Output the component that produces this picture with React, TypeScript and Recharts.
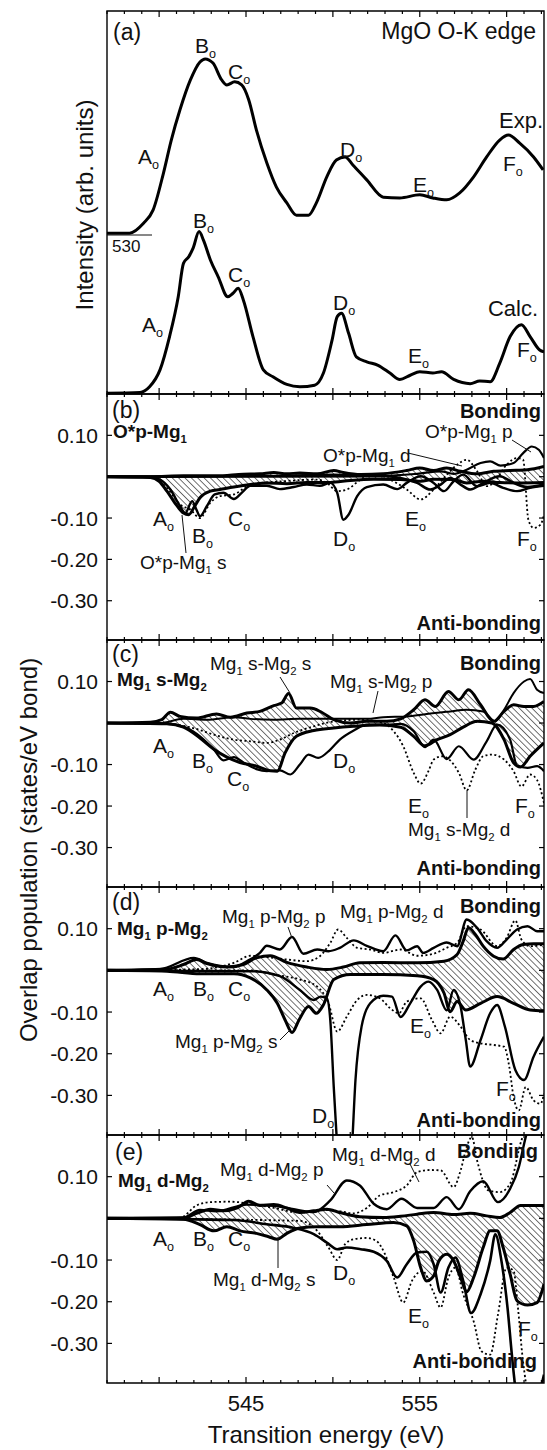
import React from 'react';
import { ComposedChart, Line, Area, XAxis, YAxis, ReferenceArea } from 'recharts';

type Pt = [number, number];
const FONT = '"Liberation Sans", Arial, Helvetica, sans-serif';

const X_DOMAIN: [number, number] = [537, 562.15];
const X_TICKS = [537, 538, 539, 540, 541, 542, 543, 544, 545, 546, 547, 548, 549, 550, 551, 552, 553, 554, 555, 556, 557, 558, 559, 560, 561, 562];
const X_LABELS = [545, 555];
const Y_TICKS = [0.1, 0, -0.1, -0.2, -0.3];
const OP_DOMAIN: [number, number] = [-0.395, 0.2];
const INT_DOMAIN: [number, number] = [0, 100];

// (a) spectra
const EXP: Pt[] = [[537.0,42.0],[538.3,42.0],[539.1,44.6],[539.65,48.0],[540.25,57.7],[540.7,66.3],[541.2,74.2],[541.8,82.0],[542.35,86.7],[542.65,87.5],[543.1,86.4],[543.6,82.0],[543.9,80.7],[544.35,81.5],[544.75,80.7],[545.15,76.9],[545.6,68.9],[546.2,60.3],[546.75,54.0],[547.35,49.9],[547.9,46.7],[548.6,46.7],[549.05,49.9],[549.65,56.7],[550.2,61.1],[550.7,61.9],[551.15,59.8],[551.95,55.9],[552.9,51.4],[553.85,51.2],[555.0,52.0],[555.75,51.2],[556.55,50.7],[557.3,52.5],[558.1,56.7],[558.85,61.9],[559.6,66.3],[560.1,67.6],[560.75,65.5],[561.55,61.9],[562.1,58.5]];
const CALC: Pt[] = [[537,0.2],[538.9,0.4],[539.45,1.9],[540.05,6.3],[540.6,15.0],[541.1,25.4],[541.4,34.1],[541.7,35.8],[541.95,38.0],[542.3,42.4],[542.55,40.2],[542.95,35.0],[543.4,30.6],[543.95,25.4],[544.25,26.3],[544.55,27.6],[544.85,24.5],[545.4,15.0],[546.0,6.3],[546.55,4.5],[547.35,2.5],[548.1,1.9],[548.95,2.3],[549.45,5.4],[549.95,14.0],[550.25,20.2],[550.5,21.1],[550.9,15.9],[551.35,9.7],[551.95,8.4],[552.6,7.5],[553.3,5.4],[553.85,3.8],[554.45,4.9],[555.0,5.8],[555.75,5.5],[556.25,5.8],[556.95,3.8],[557.9,2.7],[558.45,3.4],[559.05,3.2],[559.6,8.0],[560.2,15.0],[560.85,18.1],[561.35,15.0],[561.9,11.5],[562.15,11.0]];

// (b) O*p-Mg1
const B_HIGH: Pt[] = [[537,0],[539.5,0],[541.4,0.002],[543.3,0.002],[544.85,0.006],[545.8,0.007],[546.6,0.01],[547.35,0.007],[548.1,0.009],[549.1,0.007],[550.05,0.015],[550.6,0.01],[551.6,0.005],[552.9,0.007],[554.25,0.015],[555,0.021],[555.8,0.015],[556.55,0.021],[557.35,0.013],[558.3,0.007],[559.25,0.013],[560.2,0.015],[561.2,0.017],[562.15,0.025]];
const B_LOW: Pt[] = [[537,0],[539.5,-0.002],[540,-0.011],[540.45,-0.035],[540.9,-0.063],[541.4,-0.088],[541.7,-0.092],[542.05,-0.071],[542.35,-0.051],[542.95,-0.035],[543.5,-0.031],[544.3,-0.025],[545.25,-0.019],[546.2,-0.015],[547.35,-0.017],[548.5,-0.014],[549.85,-0.014],[551,-0.009],[552.35,-0.006],[553.9,-0.007],[555.05,-0.011],[555.8,-0.006],[556.95,-0.007],[557.7,-0.015],[558.65,-0.011],[559.6,-0.014],[560.6,-0.015],[562.15,-0.014]];
const B_S: Pt[] = [[537,0],[539.5,-0.001],[540.05,-0.007],[540.65,-0.031],[541.2,-0.071],[541.5,-0.088],[541.9,-0.059],[542.15,-0.08],[542.35,-0.096],[542.75,-0.071],[543.2,-0.043],[543.7,-0.039],[544.3,-0.054],[544.75,-0.039],[545.25,-0.022],[546.2,-0.022],[546.95,-0.03],[547.75,-0.025],[548.5,-0.019],[549.25,-0.022],[549.85,-0.015],[550.25,-0.039],[550.6,-0.104],[550.9,-0.092],[551.4,-0.047],[551.95,-0.025],[552.9,-0.019],[553.7,-0.03],[554.25,-0.015],[555.05,0.001],[555.8,-0.015],[556.4,-0.035],[556.95,-0.011],[557.5,0.005],[558.3,-0.023],[559.05,-0.015],[559.8,-0.027],[560.6,-0.035],[561.35,-0.027],[562.15,-0.022]];
const B_P: Pt[] = [[537,0],[546.2,0.002],[550.05,0.005],[552.9,0.002],[554.85,0.007],[556.2,0.013],[556.95,0.007],[557.7,0.017],[558.5,0.033],[559.05,0.037],[559.65,0.027],[560.4,0.033],[560.95,0.057],[561.45,0.073],[561.85,0.065],[562.15,0.045]];
const B_D: Pt[] = [[537,0],[539.5,-0.001],[540.45,-0.027],[541.2,-0.067],[541.8,-0.08],[542.35,-0.1],[542.95,-0.063],[543.5,-0.047],[544.3,-0.043],[545.25,-0.019],[547.15,-0.011],[549.1,-0.007],[549.65,-0.015],[550.25,-0.035],[550.8,-0.031],[551.6,-0.007],[552.35,0.007],[553.3,-0.007],[554.25,-0.031],[555.05,-0.055],[555.8,-0.031],[556.55,0.005],[557.15,0.029],[557.7,0.041],[558.3,0.013],[558.85,-0.023],[559.25,-0.015],[560,0.029],[560.6,0.045],[560.95,0.041],[561.25,-0.104],[561.55,-0.124],[561.95,-0.116],[562.15,-0.092]];
const B_X: Pt[] = [[537,0],[553.0,0.001],[553.9,-0.003],[554.85,-0.015],[555.6,-0.031],[556.2,-0.019],[556.75,-0.003],[557.35,-0.019],[557.9,-0.031],[558.65,-0.015],[559.6,0.001],[560.4,-0.015],[561.2,-0.025],[562.15,-0.019]];

// (c) Mg1 s-Mg2
const C_HIGH: Pt[] = [[537,0],[539.5,0.002],[540.15,0.008],[540.65,0.026],[541.2,0.016],[542.15,0.012],[543.3,0.022],[544.1,0.014],[545.05,0.024],[545.8,0.028],[546.6,0.042],[547.05,0.048],[547.45,0.071],[547.9,0.036],[548.7,0.036],[549.35,0.026],[550.05,0.008],[551,0],[551.95,0.004],[553.1,0.004],[553.9,0.01],[554.65,0.032],[555.3,0.056],[555.9,0.04],[556.65,0.076],[557.25,0.056],[557.8,0.08],[558.5,0.044],[559.25,0.004],[559.85,0.028],[560.4,0.044],[561,0.04],[561.55,0.04],[562.15,0.052]];
const C_LOW: Pt[] = [[537,0],[540.45,-0.002],[541.4,-0.01],[542.35,-0.036],[543.15,-0.063],[543.9,-0.082],[544.65,-0.095],[545.6,-0.104],[546.4,-0.115],[546.8,-0.116],[547.25,-0.072],[547.9,-0.032],[548.9,-0.018],[550.05,-0.012],[551.2,-0.008],[552.7,-0.005],[553.9,-0.01],[554.65,-0.032],[555.3,-0.055],[556,-0.04],[556.75,-0.028],[557.5,-0.01],[558.3,0.004],[559.15,0],[559.85,-0.04],[560.4,-0.096],[560.8,-0.106],[561.35,-0.08],[562.15,-0.048]];
const C_S: Pt[] = [[537,0],[540.45,-0.002],[541.6,-0.012],[542.35,-0.032],[543.15,-0.064],[543.7,-0.09],[544.3,-0.082],[544.85,-0.095],[545.6,-0.111],[546.2,-0.116],[546.95,-0.114],[547.55,-0.124],[548.1,-0.1],[548.6,-0.076],[549.15,-0.084],[549.85,-0.064],[550.4,-0.04],[551.2,-0.018],[551.95,-0.004],[553.1,-0.004],[553.9,-0.002],[554.65,-0.02],[555.3,-0.058],[555.8,-0.04],[556.55,-0.087],[557.25,-0.056],[558.1,-0.088],[558.85,-0.044],[559.45,-0.004],[560.2,-0.04],[560.6,-0.103],[561.2,-0.108],[561.75,-0.104],[562.15,-0.116]];
const C_P: Pt[] = [[537,0],[540.05,0],[541.4,0.01],[542.75,0.008],[544.3,0.014],[545.25,0.01],[546.6,0.008],[548.1,0.01],[550.05,0.01],[551.95,0.01],[552.9,0.014],[554.25,0.016],[555.4,0.022],[556.75,0.028],[557.7,0.032],[558.65,0.028],[559.35,0.004],[559.85,0.032],[560.4,0.072],[561,0.1],[561.35,0.106],[561.75,0.08],[562.15,0.072]];
const C_D: Pt[] = [[537,0],[540.45,-0.002],[541.95,-0.012],[543.15,-0.028],[544.3,-0.04],[545.25,-0.044],[546.2,-0.048],[546.95,-0.04],[547.75,-0.024],[548.9,-0.008],[550.05,0.004],[551.55,0.008],[552.9,0],[553.5,-0.02],[554.05,-0.056],[554.65,-0.12],[555.05,-0.146],[555.5,-0.116],[555.8,-0.088],[556.3,-0.08],[556.75,-0.09],[557.25,-0.12],[557.7,-0.162],[558.2,-0.112],[558.65,-0.08],[559.15,-0.076],[559.85,-0.088],[560.4,-0.116],[560.85,-0.153],[561.35,-0.124],[561.75,-0.137],[562.15,-0.193]];

// (d) Mg1 p-Mg2
const D_HIGH: Pt[] = [[537,0],[540.45,0.003],[541.4,0.014],[542.15,0.026],[542.75,0.016],[543.9,0.008],[544.85,0.014],[545.6,0.03],[546.4,0.035],[547.35,0.019],[548.5,0.008],[549.65,0.002],[550.6,0.008],[551.55,0.018],[552.9,0.019],[554.85,0.018],[556.4,0.022],[557.15,0.038],[557.5,0.07],[557.8,0.102],[558.2,0.086],[558.65,0.058],[559.25,0.034],[559.8,0.027],[560.4,0.05],[560.95,0.062],[561.55,0.064],[562.15,0.064]];
const D_LOW: Pt[] = [[537,0],[540.45,-0.002],[542.35,-0.008],[544.3,-0.008],[545.25,-0.018],[546.2,-0.047],[546.8,-0.079],[547.25,-0.119],[547.65,-0.149],[548.05,-0.119],[548.6,-0.087],[549.05,-0.103],[549.45,-0.083],[550.05,-0.022],[551,-0.01],[552.9,-0.01],[554.85,-0.013],[555.8,-0.022],[556.4,-0.055],[556.75,-0.099],[557.15,-0.075],[557.65,-0.095],[558.5,-0.079],[559.45,-0.063],[560.4,-0.079],[561.35,-0.095],[562.15,-0.097]];
const D_P: Pt[] = [[537,0],[540.05,0.003],[542,0.03],[542.75,0.018],[544.3,0.008],[545.05,0.022],[545.8,0.042],[546.2,0.059],[546.95,0.05],[547.65,0.08],[548.3,0.04],[549.1,0.05],[549.75,0.046],[550.4,0.054],[551.2,0.072],[551.95,0.059],[552.9,0.046],[553.6,0.084],[554.25,0.048],[554.85,0.058],[555.2,0.042],[555.8,0.054],[556.55,0.067],[557.15,0.058],[557.7,0.122],[558.3,0.102],[558.85,0.07],[559.45,0.054],[560,0.074],[560.6,0.098],[561.2,0.106],[561.75,0.094],[562.15,0.094]];
const D_D: Pt[] = [[537,0],[542.35,0.003],[544.3,0.018],[545.25,0.035],[546.2,0.032],[547.35,0.026],[548.5,0.022],[549.25,0.034],[549.85,0.066],[550.3,0.098],[550.8,0.078],[551.4,0.054],[552.15,0.05],[552.9,0.042],[553.9,0.05],[554.85,0.035],[555.8,0.04],[556.55,0.054],[557.15,0.066],[557.7,0.106],[558.5,0.098],[559.45,0.058],[560,0.078],[560.5,0.12],[560.85,0.074],[561.35,0.058],[562.15,0.062]];
const D_D2: Pt[] = [[537,0],[545.25,0],[546.6,-0.01],[548.1,-0.022],[549.1,-0.039],[549.75,-0.079],[550.25,-0.147],[550.8,-0.111],[551.4,-0.071],[551.95,-0.059],[552.7,-0.067],[553.3,-0.091],[553.8,-0.103],[554.25,-0.075],[555.05,-0.067],[555.7,-0.119],[556.2,-0.151],[556.75,-0.111],[557.35,-0.135],[557.9,-0.167],[558.5,-0.175],[559.25,-0.179],[559.85,-0.183],[560.15,-0.231],[560.4,-0.304],[560.7,-0.336],[561.1,-0.28],[561.55,-0.312],[561.95,-0.32],[562.15,-0.296]];
const D_S: Pt[] = [[537,0],[545.25,-0.002],[546.95,-0.014],[548.1,-0.047],[548.9,-0.071],[549.3,-0.063],[549.65,-0.067],[549.85,-0.119],[550.05,-0.28],[550.25,-0.424],[550.5,-0.585],[550.8,-0.585],[551.1,-0.424],[551.3,-0.263],[551.65,-0.135],[552.15,-0.079],[552.9,-0.061],[553.4,-0.063],[553.9,-0.112],[554.45,-0.079],[555.05,-0.039],[555.5,-0.027],[556,-0.047],[556.55,-0.096],[556.95,-0.047],[557.35,-0.087],[557.65,-0.167],[557.9,-0.231],[558.5,-0.167],[559.05,-0.103],[559.45,-0.083],[559.9,-0.135],[560.5,-0.239],[561,-0.263],[561.55,-0.207],[562.15,-0.159]];

// (e) Mg1 d-Mg2
const E_HIGH: Pt[] = [[537,0],[541.4,0.001],[542.15,0.012],[542.95,0.022],[543.7,0.018],[544.5,0.025],[545.15,0.041],[545.8,0.031],[546.6,0.033],[547.35,0.025],[548.1,0.014],[548.9,0.018],[549.65,0.022],[550.4,0.014],[551.55,0.004],[552.9,0.002],[553.9,0.005],[554.85,0.01],[555.8,0.014],[556.95,0.009],[557.9,0.012],[558.85,0.006],[559.6,0.002],[560.2,0.014],[560.8,0.031],[561.55,0.031],[562.15,0.031]];
const E_LOW: Pt[] = [[537,0],[541.4,-0.002],[542.35,-0.015],[543.15,-0.03],[543.9,-0.02],[544.65,-0.03],[545.6,-0.036],[546.3,-0.044],[546.8,-0.05],[547.35,-0.036],[548.1,-0.023],[549.1,-0.02],[550.4,-0.02],[551.95,-0.015],[553.5,-0.01],[554.25,-0.018],[554.65,-0.054],[555.05,-0.118],[555.4,-0.15],[555.8,-0.138],[556.1,-0.102],[556.55,-0.086],[556.95,-0.102],[557.35,-0.142],[557.7,-0.176],[558.1,-0.142],[558.65,-0.07],[559.05,-0.03],[559.45,-0.03],[559.8,-0.07],[560.2,-0.134],[560.6,-0.198],[561.2,-0.208],[561.75,-0.202],[562.15,-0.158]];
const E_P: Pt[] = [[537,0],[541.4,0.002],[542.35,0.02],[543.3,0.017],[545.05,0.033],[546.6,0.03],[547.75,0.022],[548.9,0.015],[549.85,0.043],[550.8,0.091],[551.55,0.079],[552.35,0.035],[553.1,0.022],[553.95,0.047],[554.85,0.025],[555.8,0.025],[556.55,0.051],[557.25,0.022],[557.9,0.065],[558.65,0.089],[559.5,0.039],[560.2,0.071],[560.7,0.123],[561.05,0.187],[561.35,0.235]];
const E_D: Pt[] = [[537,0],[541.2,0.001],[542.15,0.031],[542.95,0.039],[544.1,0.04],[545.25,0.035],[546.6,0.025],[548.1,0.014],[549.65,0.02],[550.4,0.017],[551.2,0.012],[551.95,0.025],[552.7,0.055],[553.5,0.063],[554.25,0.079],[554.85,0.111],[555.6,0.116],[556.2,0.115],[556.95,0.075],[557.35,0.115],[557.7,0.171],[558,0.195],[558.3,0.139],[558.95,0.067],[559.6,0.063],[560.2,0.083],[560.85,0.187],[561.15,0.219]];
const E_D2: Pt[] = [[537,0],[548.1,-0.006],[549.1,-0.03],[549.75,-0.07],[550.25,-0.1],[550.7,-0.062],[551.2,-0.05],[551.95,-0.047],[552.5,-0.054],[553,-0.086],[553.5,-0.142],[554.05,-0.202],[554.55,-0.15],[555.15,-0.126],[555.8,-0.178],[556.2,-0.214],[556.65,-0.142],[557.05,-0.118],[557.5,-0.182],[558.1,-0.247],[558.55,-0.319],[559.05,-0.327],[559.5,-0.231],[560,-0.118],[560.4,-0.126],[560.65,-0.214],[560.9,-0.327],[561.15,-0.407]];
const E_N: Pt[] = [[537,0],[544.3,-0.004],[546.2,-0.014],[547.75,-0.023],[548.9,-0.038],[549.65,-0.058],[550.25,-0.074],[550.8,-0.07],[551.6,-0.074],[552.35,-0.08],[553.1,-0.102],[553.7,-0.142],[554.25,-0.11],[554.85,-0.082],[555.4,-0.08],[555.8,-0.11],[556.2,-0.178],[556.65,-0.118],[557.05,-0.094],[557.5,-0.15],[557.95,-0.227],[558.5,-0.182],[559.05,-0.102],[559.35,-0.038],[559.7,-0.102],[560.05,-0.214],[560.3,-0.327],[560.5,-0.407],[560.8,-0.488],[561.2,-0.57],[561.75,-0.45],[562.15,-0.375]];

type Series = { data: Pt[]; w: number; dash?: string };
const pts = (a: Pt[]) => a.map(([x, y]) => ({ x, y }));

const makeXTick = (H: number, labels: boolean) => (props: any) => {
  const { x, y, payload } = props;
  const v = payload.value as number;
  const len = v % 5 === 0 ? 6 : 3;
  return (
    <g>
      <line x1={x} y1={y} x2={x} y2={y - len} stroke="#000" strokeWidth={1.2} />
      <line x1={x} y1={y - H} x2={x} y2={y - H + len} stroke="#000" strokeWidth={1.2} />
      {labels && X_LABELS.includes(v) ? (
        <text x={x} y={y + 28} textAnchor="middle" fontSize={22} fontFamily={FONT} fill="#111">{v}</text>
      ) : null}
    </g>
  );
};

const makeYTick = (W: number) => (props: any) => {
  const { x, y, payload } = props;
  const v = payload.value as number;
  return (
    <g>
      <line x1={x} y1={y} x2={x + 5} y2={y} stroke="#000" strokeWidth={1.2} />
      <line x1={x + W} y1={y} x2={x + W - 5} y2={y} stroke="#000" strokeWidth={1.2} />
      {v !== 0 ? (
        <text x={x - 9} y={y + 7.5} textAnchor="end" fontSize={21} fontFamily={FONT} fill="#111">{v.toFixed(2)}</text>
      ) : null}
    </g>
  );
};

type PanelProps = {
  id: string; top: number; H: number; domain: [number, number]; yTicks: boolean; xLabels: boolean;
  areas: Pt[][]; lines: Series[];
};

function Panel({ id, top, H, domain, yTicks, xLabels, areas, lines }: PanelProps) {
  const W = 437;
  const xh = xLabels ? 45 : 30;
  return (
    <div style={{ position: 'absolute', left: 0, top: top - 5 }}>
      <ComposedChart width={547} height={H + 5 + xh} margin={{ top: 5, right: 3, bottom: 0, left: 0 }}>
        <defs>
          <pattern id={`hatch-${id}`} width={4.5} height={4.5} patternUnits="userSpaceOnUse" patternTransform="rotate(-45)">
            <line x1={0} y1={0} x2={0} y2={4.5} stroke="#000" strokeWidth={1.1} />
          </pattern>
        </defs>
        <XAxis dataKey="x" type="number" domain={X_DOMAIN} allowDataOverflow ticks={X_TICKS} interval={0}
          height={xh} tickSize={0} tickMargin={0} axisLine={false} tickLine={false} tick={makeXTick(H, xLabels)} />
        <YAxis type="number" domain={domain} allowDataOverflow ticks={yTicks ? Y_TICKS : []} interval={0}
          width={107} tickSize={0} tickMargin={0} axisLine={false} tickLine={false}
          tick={yTicks ? makeYTick(W) : false} />
        <ReferenceArea x1={X_DOMAIN[0]} x2={X_DOMAIN[1]} y1={domain[0]} y2={domain[1]} fill="none" fillOpacity={0}
          stroke="#000" strokeWidth={1.4} ifOverflow="visible" />
        {areas.map((a, i) => (
          <Area key={`a${i}`} data={pts(a)} dataKey="y" type="monotone" baseValue={0} fill={`url(#hatch-${id})`}
            fillOpacity={1} stroke="#000" strokeWidth={3} dot={false} activeDot={false} isAnimationActive={false} />
        ))}
        {lines.map((s, i) => (
          <Line key={`l${i}`} data={pts(s.data)} dataKey="y" type="monotone" stroke="#000" strokeWidth={s.w}
            strokeDasharray={s.dash} dot={false} activeDot={false} isAnimationActive={false} />
        ))}
      </ComposedChart>
    </div>
  );
}

type Part = [string, boolean?];
function Lab({ x, y, parts, size = 19, bold = false, anchor = 'start' }: { x: number; y: number; parts: Part[]; size?: number; bold?: boolean; anchor?: string }) {
  let sub = false;
  const off = size * 0.26;
  return (
    <text x={x} y={y} fontSize={size} fontWeight={bold ? 'bold' : 'normal'} textAnchor={anchor as any} fill="#111" fontFamily={FONT}>
      {parts.map(([s, isSub], i) => {
        const dy = isSub && !sub ? off : !isSub && sub ? -off : 0;
        sub = !!isSub;
        return <tspan key={i} dy={dy} fontSize={isSub ? size * 0.6 : size}>{s}</tspan>;
      })}
    </text>
  );
}
const Pk = ({ x, y, l }: { x: number; y: number; l: string }) => <Lab x={x} y={y} size={21} parts={[[l], ['o', true]]} />;
const PL = ({ x1, y1, x2, y2 }: { x1: number; y1: number; x2: number; y2: number }) => (
  <line x1={x1} y1={y1} x2={x2} y2={y2} stroke="#111" strokeWidth={1} />
);

export default function App() {
  const dash = '2 2.5';
  return (
    <div style={{ position: 'absolute', left: 0, top: 0, width: 547, height: 1450, background: '#fff', fontFamily: FONT }}>
      <Panel id="a" top={11} H={383} domain={INT_DOMAIN} yTicks={false} xLabels={false} areas={[]}
        lines={[{ data: EXP, w: 3 }, { data: CALC, w: 3 }]} />
      <Panel id="b" top={394} H={246} domain={OP_DOMAIN} yTicks xLabels={false} areas={[B_HIGH, B_LOW]}
        lines={[{ data: B_X, w: 2.6 }, { data: B_S, w: 2.4 }, { data: B_P, w: 2.2 }, { data: B_D, w: 1.8, dash }]} />
      <Panel id="c" top={640} H={247} domain={OP_DOMAIN} yTicks xLabels={false} areas={[C_HIGH, C_LOW]}
        lines={[{ data: C_S, w: 2.2 }, { data: C_P, w: 2.0 }, { data: C_D, w: 1.8, dash }]} />
      <Panel id="d" top={887} H={248} domain={OP_DOMAIN} yTicks xLabels={false} areas={[D_HIGH, D_LOW]}
        lines={[{ data: D_P, w: 2.4 }, { data: D_S, w: 2.4 }, { data: D_D, w: 1.8, dash }, { data: D_D2, w: 1.8, dash }]} />
      <Panel id="e" top={1135} H={248} domain={OP_DOMAIN} yTicks xLabels areas={[E_HIGH, E_LOW]}
        lines={[{ data: E_P, w: 2.4 }, { data: E_N, w: 2.6 }, { data: E_D, w: 1.8, dash }, { data: E_D2, w: 1.8, dash }]} />

      <svg width={547} height={1450} style={{ position: 'absolute', left: 0, top: 0, pointerEvents: 'none' }}>
        <text transform="translate(93,205) rotate(-90)" textAnchor="middle" fontSize={24} fontFamily={FONT} fill="#111">Intensity (arb. units)</text>
        <text transform="translate(37,850) rotate(-90)" textAnchor="middle" fontSize={24} fontFamily={FONT} fill="#111">Overlap population (states/eV bond)</text>
        <text x={326} y={1443} textAnchor="middle" fontSize={24} fontFamily={FONT} fill="#111">Transition energy (eV)</text>

        {/* (a) */}
        <Lab x={113} y={40} size={23} parts={[['(a)']]} />
        <Lab x={536} y={39} size={23} anchor="end" parts={[['MgO O-K edge']]} />
        <Pk x={195} y={53} l="B" /><Pk x={228} y={79} l="C" /><Pk x={138} y={164} l="A" />
        <Pk x={340} y={157} l="D" /><Pk x={413} y={192} l="E" /><Pk x={503} y={171} l="F" />
        <Lab x={543} y={128} size={22} anchor="end" parts={[['Exp.']]} />
        <Pk x={193} y={228} l="B" /><Pk x={228} y={282} l="C" /><Pk x={142} y={332} l="A" />
        <Pk x={333} y={310} l="D" /><Pk x={408} y={363} l="E" /><Pk x={517} y={357} l="F" />
        <Lab x={538} y={316} size={22} anchor="end" parts={[['Calc.']]} />
        <line x1={107} y1={235} x2={152} y2={235} stroke="#111" strokeWidth={1} />
        <text x={112} y={252} fontSize={17} fontFamily={FONT} fill="#111">530</text>

        {/* (b) */}
        <Lab x={112} y={418} size={23} parts={[['(b)']]} />
        <Lab x={113} y={438} bold parts={[['O*p-Mg'], ['1', true]]} />
        <Lab x={541} y={418} size={20} bold anchor="end" parts={[['Bonding']]} />
        <Lab x={541} y={630} size={20} bold anchor="end" parts={[['Anti-bonding']]} />
        <Lab x={425} y={438} parts={[['O*p-Mg'], ['1', true], [' p']]} />
        <PL x1={512} y1={440} x2={531} y2={452} />
        <Lab x={323} y={462} parts={[['O*p-Mg'], ['1', true], [' d']]} />
        <PL x1={408} y1={453} x2={462} y2={466} />
        <Pk x={153} y={526} l="A" /><Pk x={192} y={543} l="B" /><Pk x={228} y={526} l="C" />
        <Pk x={333} y={546} l="D" /><Pk x={405} y={526} l="E" /><Pk x={517} y={546} l="F" />
        <Lab x={140} y={569} parts={[['O*p-Mg'], ['1', true], [' s']]} />
        <PL x1={182} y1={515} x2={186} y2={553} />

        {/* (c) */}
        <Lab x={112} y={662} size={23} parts={[['(c)']]} />
        <Lab x={117} y={686} bold parts={[['Mg'], ['1', true], [' s-Mg'], ['2', true]]} />
        <Lab x={541} y={670} size={20} bold anchor="end" parts={[['Bonding']]} />
        <Lab x={541} y={875} size={20} bold anchor="end" parts={[['Anti-bonding']]} />
        <Lab x={210} y={670} parts={[['Mg'], ['1', true], [' s-Mg'], ['2', true], [' s']]} />
        <PL x1={280} y1={677} x2={290} y2={693} />
        <Lab x={330} y={688} parts={[['Mg'], ['1', true], [' s-Mg'], ['2', true], [' p']]} />
        <PL x1={378} y1={691} x2={373} y2={713} />
        <Pk x={153} y={753} l="A" /><Pk x={192} y={768} l="B" /><Pk x={227} y={786} l="C" />
        <Pk x={333} y={768} l="D" /><Pk x={408} y={813} l="E" /><Pk x={515} y={813} l="F" />
        <Lab x={408} y={836} parts={[['Mg'], ['1', true], [' s-Mg'], ['2', true], [' d']]} />
        <PL x1={467} y1={790} x2={467} y2={818} />

        {/* (d) */}
        <Lab x={112} y={910} size={23} parts={[['(d)']]} />
        <Lab x={117} y={935} bold parts={[['Mg'], ['1', true], [' p-Mg'], ['2', true]]} />
        <Lab x={541} y={913} size={20} bold anchor="end" parts={[['Bonding']]} />
        <Lab x={541} y={1127} size={20} bold anchor="end" parts={[['Anti-bonding']]} />
        <Lab x={222} y={923} parts={[['Mg'], ['1', true], [' p-Mg'], ['2', true], [' p']]} />
        <PL x1={288} y1={927} x2={292} y2={938} />
        <Lab x={340} y={918} parts={[['Mg'], ['1', true], [' p-Mg'], ['2', true], [' d']]} />
        <Pk x={153} y={996} l="A" /><Pk x={193} y={996} l="B" /><Pk x={228} y={996} l="C" />
        <Lab x={175} y={1048} parts={[['Mg'], ['1', true], [' p-Mg'], ['2', true], [' s']]} />
        <PL x1={280} y1={1040} x2={290} y2={1030} />
        <Pk x={410} y={1033} l="E" /><Pk x={312} y={1123} l="D" /><Pk x={496} y={1096} l="F" />

        {/* (e) */}
        <Lab x={115} y={1160} size={23} parts={[['(e)']]} />
        <Lab x={118} y={1187} bold parts={[['Mg'], ['1', true], [' d-Mg'], ['2', true]]} />
        <Lab x={538} y={1158} size={20} bold anchor="end" parts={[['Bonding']]} />
        <Lab x={537} y={1368} size={20} bold anchor="end" parts={[['Anti-bonding']]} />
        <Lab x={220} y={1176} parts={[['Mg'], ['1', true], [' d-Mg'], ['2', true], [' p']]} />
        <PL x1={327} y1={1185} x2={334} y2={1193} />
        <Lab x={332} y={1161} parts={[['Mg'], ['1', true], [' d-Mg'], ['2', true], [' d']]} />
        <PL x1={410} y1={1164} x2={419} y2={1182} />
        <Pk x={153} y={1246} l="A" /><Pk x={193} y={1246} l="B" /><Pk x={228} y={1246} l="C" />
        <Lab x={213} y={1286} parts={[['Mg'], ['1', true], [' d-Mg'], ['2', true], [' s']]} />
        <PL x1={278} y1={1237} x2={278} y2={1268} />
        <Pk x={333} y={1280} l="D" /><Pk x={408} y={1323} l="E" /><Pk x={518} y={1336} l="F" />
      </svg>
    </div>
  );
}
